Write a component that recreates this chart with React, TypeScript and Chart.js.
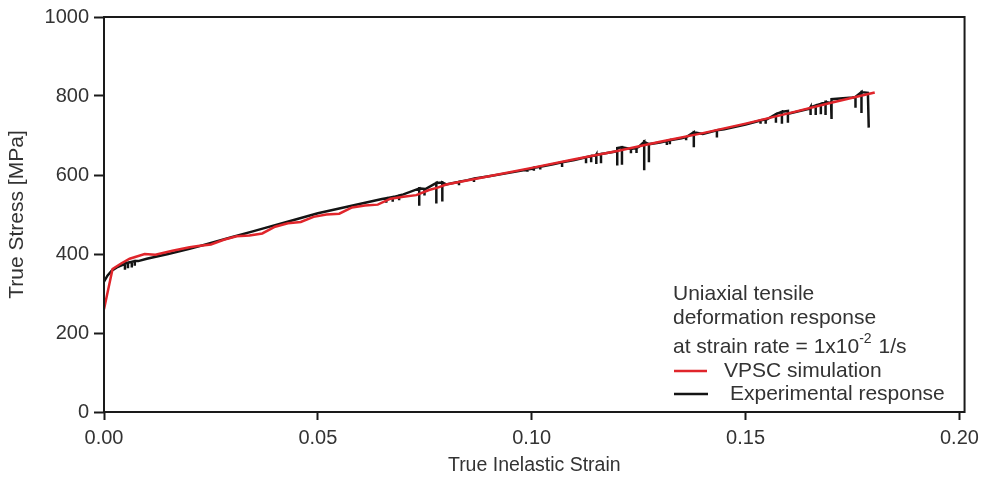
import { useEffect, useRef } from "react";
import { Chart, registerables } from "chart.js";

Chart.register(...registerables);

// VPSC simulation: [true inelastic strain, true stress in MPa]
const vpscCurve: [number, number][] = [
  [0, 260], [0.002, 362], [0.004, 376], [0.006, 388], [0.0095, 400], [0.012, 398],
  [0.016, 408], [0.02, 417], [0.022, 420], [0.025, 424], [0.028, 436], [0.031, 445],
  [0.034, 447], [0.037, 452], [0.04, 469], [0.043, 478], [0.046, 481], [0.049, 494],
  [0.052, 500], [0.055, 502], [0.058, 518], [0.061, 523], [0.064, 525], [0.067, 540],
  [0.07, 545], [0.073, 549], [0.076, 562], [0.078, 568], [0.08, 576], [0.09, 597],
  [0.1, 618], [0.11, 640], [0.12, 661], [0.13, 684], [0.14, 706], [0.15, 730],
  [0.16, 756], [0.17, 783], [0.1802, 809],
];

// Experimental response, upper envelope of the serrated trace
const expEnvelope: [number, number][] = [
  [0, 330], [0.0008, 345], [0.0018, 358], [0.003, 366], [0.0045, 373], [0.008, 382],
  [0.01, 388], [0.015, 400], [0.02, 413], [0.025, 428], [0.03, 443], [0.035, 458],
  [0.04, 473], [0.045, 488], [0.05, 503], [0.055, 515], [0.06, 527], [0.065, 539],
  [0.07, 551], [0.075, 563], [0.08, 576], [0.085, 587], [0.09, 597], [0.095, 606],
  [0.1, 616], [0.105, 627], [0.11, 638], [0.115, 649], [0.12, 660], [0.125, 671],
  [0.13, 682], [0.135, 693], [0.14, 704], [0.145, 716], [0.15, 728], [0.155, 741],
  [0.16, 755], [0.165, 768], [0.17, 782], [0.175, 796], [0.1786, 808], [0.1788, 720],
];

// Serration drops in the experimental trace: [strain, stress before drop, stress at bottom]
const expDrops: [number, number, number][] = [
  [0.0049, 376, 360], [0.0056, 378, 364], [0.0065, 380, 366], [0.0072, 382, 370],
  [0.066, 541, 530], [0.0675, 544, 532], [0.069, 548, 536],
  [0.0737, 566, 522], [0.0749, 565, 548], [0.0777, 580, 528], [0.0791, 581, 533],
  [0.083, 583, 574], [0.0865, 591, 582],
  [0.099, 614, 608], [0.1005, 618, 611], [0.102, 621, 614],
  [0.1071, 632, 620], [0.1127, 645, 630], [0.1139, 648, 632], [0.1151, 651, 628], [0.1162, 653, 630],
  [0.12, 668, 624], [0.1211, 670, 626], [0.1232, 666, 655], [0.1245, 669, 656],
  [0.1263, 684, 612], [0.1274, 678, 632],
  [0.1316, 686, 676], [0.1323, 688, 678], [0.1361, 696, 688], [0.1379, 708, 670],
  [0.1433, 713, 695],
  [0.1535, 738, 730], [0.1547, 741, 730], [0.1571, 754, 732], [0.1585, 760, 730], [0.1599, 762, 732],
  [0.1652, 772, 752], [0.1664, 776, 752], [0.1676, 780, 754], [0.1687, 785, 752], [0.1701, 792, 742],
  [0.1757, 798, 770], [0.1771, 810, 757],
];

const strainTicks = [0, 0.05, 0.1, 0.15, 0.2];
const stressTicks = [0, 200, 400, 600, 800, 1000];

const noteLines = ["Uniaxial tensile", "deformation response"];
const rateText = "at strain rate = 1x10";
const rateExponent = "-2";
const rateUnit = " 1/s";
const seriesNames = ["VPSC simulation", "Experimental response"];

const RED = "#e0252b";
const BLACK = "#141414";
const TEXT = "#333333";
const FONT = '"Liberation Sans", Arial, Helvetica, sans-serif';

function experimentalPoints() {
  const pts = expEnvelope.map(([x, y]) => ({ x, y }));
  expDrops.forEach(([x, top, bottom]) => {
    pts.push({ x, y: top }, { x, y: bottom }, { x, y: top });
  });
  return pts.sort((a, b) => a.x - b.x);
}

const framePlugin = {
  id: "frame",
  afterDatasetsDraw(chart: any) {
    const { ctx, chartArea: a } = chart;
    ctx.save();
    ctx.strokeStyle = "#1a1a1a";
    ctx.lineWidth = 2;
    ctx.strokeRect(a.left, a.top, a.right - a.left, a.bottom - a.top);
    ctx.restore();
  },
};

const notePlugin = {
  id: "note",
  afterDraw(chart: any) {
    const { ctx } = chart;
    ctx.save();
    ctx.fillStyle = TEXT;
    ctx.textBaseline = "middle";
    ctx.textAlign = "left";
    ctx.font = `21px ${FONT}`;
    ctx.fillText(noteLines[0], 673, 294);
    ctx.fillText(noteLines[1], 673, 318);
    ctx.fillText(rateText, 673, 347);
    const w = ctx.measureText(rateText).width;
    ctx.font = `14px ${FONT}`;
    ctx.fillText(rateExponent, 673 + w, 339);
    const w2 = ctx.measureText(rateExponent).width;
    ctx.font = `21px ${FONT}`;
    ctx.fillText(rateUnit, 673 + w + w2 + 1, 347);

    ctx.lineWidth = 2.5;
    ctx.strokeStyle = RED;
    ctx.beginPath();
    ctx.moveTo(674, 371);
    ctx.lineTo(707, 371);
    ctx.stroke();
    ctx.fillText(seriesNames[0], 724, 371);

    ctx.strokeStyle = BLACK;
    ctx.beginPath();
    ctx.moveTo(674, 394);
    ctx.lineTo(708, 394);
    ctx.stroke();
    ctx.fillText(seriesNames[1], 730, 394);
    ctx.restore();
  },
};

export default function App() {
  const ref = useRef<HTMLCanvasElement>(null);

  useEffect(() => {
    if (!ref.current) return;
    const chart = new Chart(ref.current, {
      type: "line",
      data: {
        datasets: [
          {
            label: seriesNames[0],
            data: vpscCurve.map(([x, y]) => ({ x, y })),
            borderColor: RED,
            borderWidth: 2.5,
            pointRadius: 0,
            tension: 0,
            order: 0,
          },
          {
            label: seriesNames[1],
            data: experimentalPoints(),
            borderColor: BLACK,
            borderWidth: 2.5,
            pointRadius: 0,
            tension: 0,
            order: 1,
          },
        ],
      },
      options: {
        responsive: false,
        animation: false,
        events: [],
        layout: { padding: { top: 16, right: 19, bottom: 0, left: 0 } },
        plugins: { legend: { display: false }, tooltip: { enabled: false } },
        scales: {
          x: {
            type: "linear",
            min: 0,
            max: 0.2012,
            border: { display: false },
            grid: {
              drawOnChartArea: false,
              drawTicks: true,
              tickLength: 8,
              tickColor: "#1a1a1a",
              tickWidth: 2,
            },
            afterBuildTicks: (s: any) => {
              s.ticks = strainTicks.map((v) => ({ value: v }));
            },
            afterFit: (s: any) => {
              s.height = 69;
            },
            ticks: {
              color: TEXT,
              padding: 6,
              font: { family: FONT, size: 20 },
              maxRotation: 0,
              callback: (v: any) => Number(v).toFixed(2),
            },
            title: {
              display: true,
              text: "True Inelastic Strain",
              color: TEXT,
              font: { family: FONT, size: 19.5 },
              padding: { top: 0, bottom: 4 },
            },
          },
          y: {
            type: "linear",
            min: 0,
            max: 1000,
            border: { display: false },
            grid: {
              drawOnChartArea: false,
              drawTicks: true,
              tickLength: 10,
              tickColor: "#1a1a1a",
              tickWidth: 2,
            },
            afterBuildTicks: (s: any) => {
              s.ticks = stressTicks.map((v) => ({ value: v }));
            },
            afterFit: (s: any) => {
              s.width = 104;
            },
            ticks: {
              color: TEXT,
              padding: 5,
              font: { family: FONT, size: 20 },
              callback: (v: any) => String(v),
            },
            title: {
              display: true,
              text: "True Stress [MPa]",
              color: TEXT,
              font: { family: FONT, size: 21 },
              padding: { top: 5, bottom: 0 },
            },
          },
        },
      },
      plugins: [framePlugin, notePlugin],
    });
    return () => chart.destroy();
  }, []);

  return (
    <div style={{ position: "absolute", left: 0, top: 0, width: 985, height: 481, background: "#fff" }}>
      <canvas ref={ref} width={985} height={481} style={{ display: "block" }} />
    </div>
  );
}
